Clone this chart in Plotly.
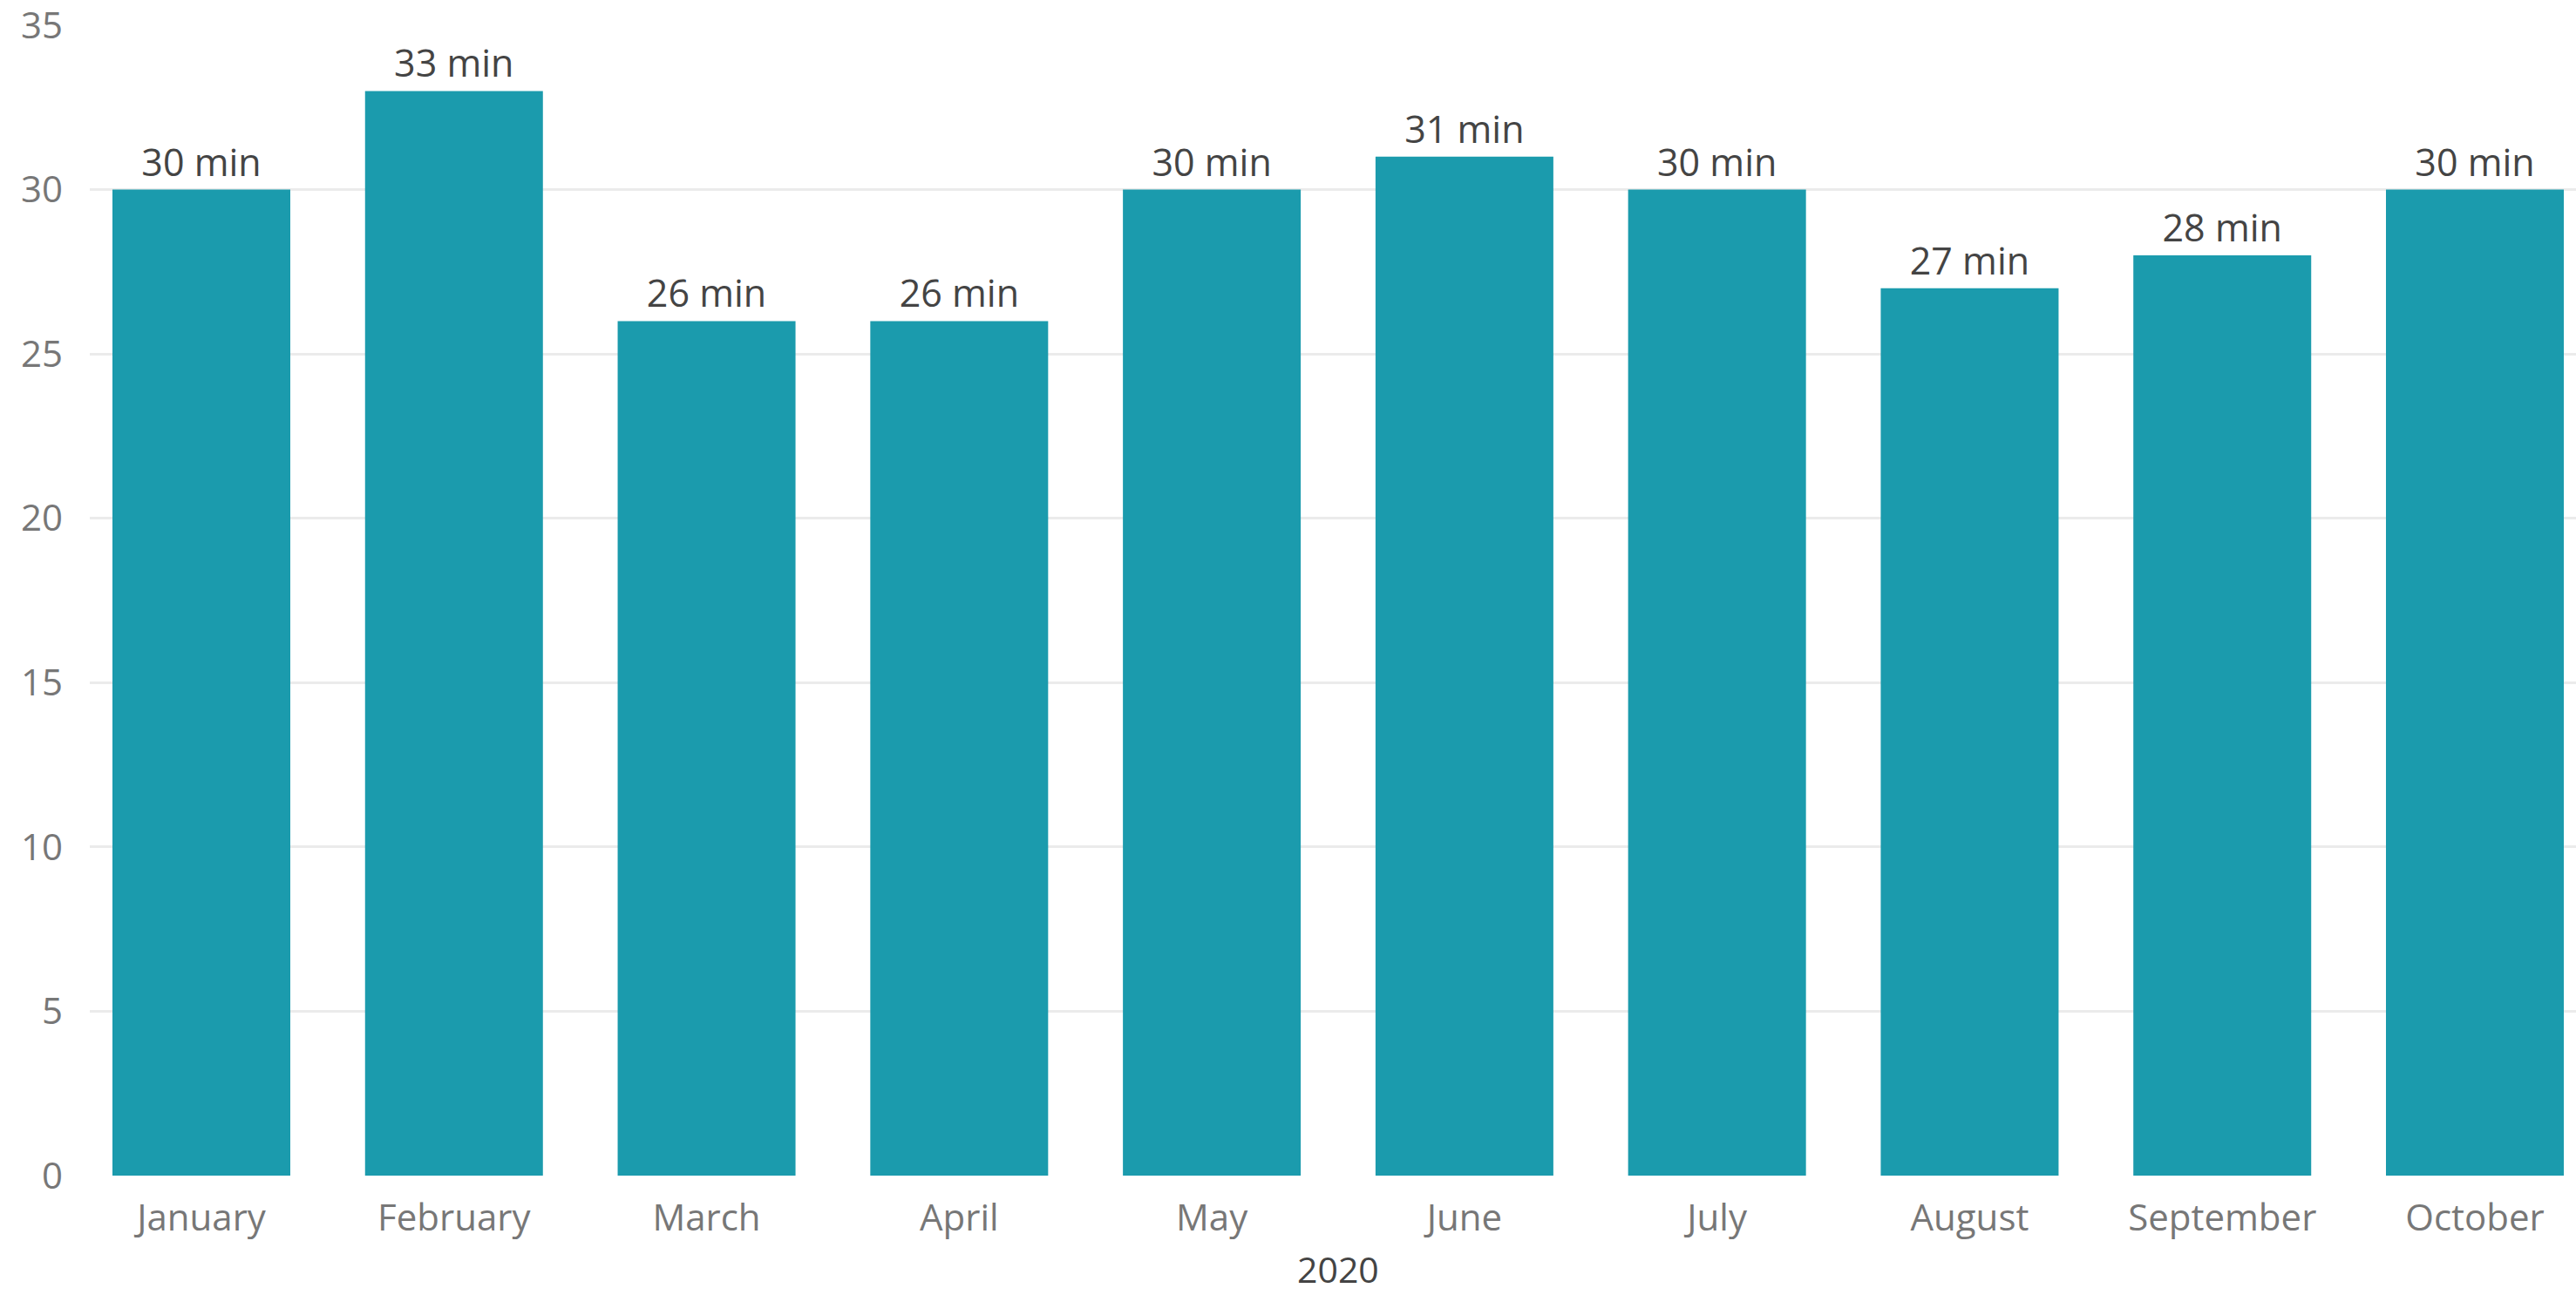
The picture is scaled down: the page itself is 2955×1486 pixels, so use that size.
import plotly.graph_objects as go

months = ["January", "February", "March", "April", "May", "June",
          "July", "August", "September", "October"]
minutes = [30, 33, 26, 26, 30, 31, 30, 27, 28, 30]
label_suffix = " min"
y_ticks = [0, 5, 10, 15, 20, 25, 30, 35]
x_title = "2020"

FONT = "Open Sans, Segoe UI, sans-serif"
BAR = "#1B9BAD"

fig = go.Figure(go.Bar(
    x=months,
    y=minutes,
    marker=dict(color=BAR, line=dict(width=0)),
    width=0.704,
    text=[f"{v}{label_suffix}" for v in minutes],
    textposition="outside",
    textfont=dict(family=FONT, size=43, color="#444444"),
    cliponaxis=False,
    hoverinfo="skip",
))

fig.update_layout(
    width=2955, height=1486,
    margin=dict(l=103, r=0, t=29, b=137),
    paper_bgcolor="white",
    plot_bgcolor="white",
    showlegend=False,
    font=dict(family=FONT),
    # x-axis title ("2020"), centred under the category band
    annotations=[dict(
        text=x_title, xref="x", yref="paper", x=(len(months) - 1) / 2, y=-0.1030,
        xanchor="center", yanchor="bottom", showarrow=False, borderpad=0,
        font=dict(family=FONT, size=41, color="#444444"),
    )],
)

fig.update_xaxes(
    type="category",
    range=[-0.4417, 9.4003],
    automargin=False,
    showgrid=False, zeroline=False, showline=False, ticks="",
    tickfont=dict(family=FONT, size=42, color="#777777"),
    ticklabelstandoff=20,
)

fig.update_yaxes(
    range=[0, 35],
    tickvals=y_ticks,
    automargin=False,
    ticklabeloverflow="allow",
    showgrid=True, gridcolor="#EBEBEB", gridwidth=3,
    zeroline=False, showline=False, ticks="",
    tickfont=dict(family=FONT, size=42, color="#777777"),
    ticklabelstandoff=30,
)

# remove the default 8px page margin so the figure fills the window exactly
fig.write_html("out.html", config={"displayModeBar": False},
               post_script="document.body.style.margin='0';")
